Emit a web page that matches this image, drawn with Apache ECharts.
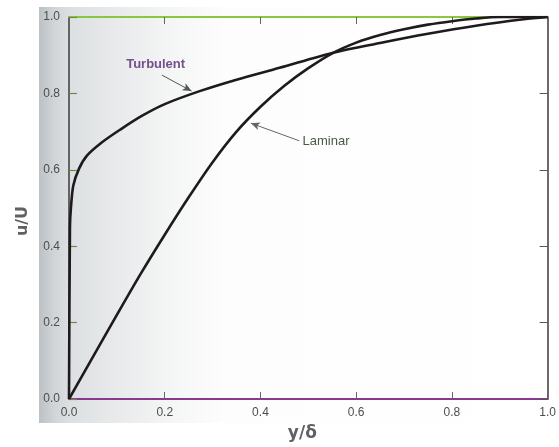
<!DOCTYPE html>
<html>
<head>
<meta charset="utf-8">
<script src="https://cdn.jsdelivr.net/npm/echarts@6/dist/echarts.min.js"></script>
<style>
html,body{margin:0;padding:0;background:#fff;}
#chart{width:559px;height:447px;}
</style>
</head>
<body>
<div id="chart"></div>
<script>
// Data (y/delta vs u/U)
const turbulentEta = [0, 0.002, 0.004, 0.009, 0.021, 0.0375, 0.069, 0.108, 0.152, 0.2, 0.273, 0.35, 0.44, 0.55, 0.65, 0.75, 0.85, 0.95, 1.0];
const turbulentU   = [0, 0.45, 0.5, 0.559, 0.603, 0.637, 0.672, 0.706, 0.741, 0.772, 0.806, 0.836, 0.867, 0.906, 0.932, 0.956, 0.977, 0.994, 1.0];

const laminarEta = [0, 0.05, 0.1, 0.15, 0.2, 0.25, 0.3, 0.35, 0.4, 0.45, 0.5, 0.55, 0.6, 0.65, 0.7, 0.75, 0.8, 0.85, 0.9, 1.0];
const laminarU   = [0, 0.11, 0.22, 0.328, 0.43, 0.528, 0.62, 0.70, 0.765, 0.82, 0.866, 0.905, 0.933, 0.953, 0.968, 0.980, 0.989, 0.996, 1.0, 1.0];

const xTicks = [0, 0.2, 0.4, 0.6, 0.8, 1.0];
const yTicks = [0, 0.2, 0.4, 0.6, 0.8, 1.0];

// annotation anchors (data coordinates)
const turbulentLabel = { text: 'Turbulent', at: [0.181, 0.875], arrowFrom: [0.194, 0.848], arrowTo: [0.256, 0.806] };
const laminarLabel   = { text: 'Laminar',   at: [0.488, 0.673], arrowFrom: [0.481, 0.676], arrowTo: [0.38, 0.722] };

const pairs = (xs, ys) => xs.map((x, i) => [x, ys[i]]);

const chart = echarts.init(document.getElementById('chart'), null, { renderer: 'canvas' });

const labelFont = { fontFamily: 'Liberation Sans, Arial, sans-serif', fontSize: 12, color: '#4b4f48' };

const option = {
  backgroundColor: '#ffffff',
  animation: false,
  graphic: [
    {
      type: 'rect', z: -10, silent: true,
      shape: { x: 39, y: 7, width: 520, height: 416 },
      style: {
        fill: new echarts.graphic.LinearGradient(0, 0, 1, 0, [
          { offset: 0, color: '#bcc1c5' },
          { offset: 0.03, color: '#d1d5d8' },
          { offset: 0.06, color: '#dde0e2' },
          { offset: 0.15, color: '#e8eaeb' },
          { offset: 0.25, color: '#f4f5f5' },
          { offset: 0.36, color: '#fdfdfd' },
          { offset: 1, color: '#ffffff' }
        ])
      }
    }
  ],
  grid: { left: 69, right: 10, top: 17, bottom: 45, containLabel: false },
  xAxis: [
    {
      type: 'value', position: 'bottom', min: 0, max: 1, interval: 0.2,
      name: 'y/δ', nameLocation: 'middle', nameGap: 26,
      nameTextStyle: { fontFamily: 'DejaVu Sans, sans-serif', fontSize: 17, color: '#5f6163', fontWeight: 'bold', padding: [0, 12, 0, 0] },
      axisLine: { show: true, lineStyle: { color: '#8a3a8e', width: 2 } },
      axisTick: { show: true, inside: true, length: 7, lineStyle: { color: '#666', width: 1 } },
      axisLabel: Object.assign({ margin: 8, formatter: v => v.toFixed(1) }, labelFont),
      splitLine: { show: false }
    },
    {
      type: 'value', position: 'top', min: 0, max: 1, interval: 0.2,
      axisLine: { show: true, onZero: false, lineStyle: { color: '#8cc63f', width: 2 } },
      axisTick: { show: true, inside: true, length: 7, lineStyle: { color: '#666', width: 1 } },
      axisLabel: { show: false },
      splitLine: { show: false }
    }
  ],
  yAxis: [
    {
      type: 'value', position: 'left', min: 0, max: 1, interval: 0.2,
      name: 'u/U', nameLocation: 'middle', nameGap: 38,
      nameTextStyle: { fontFamily: 'DejaVu Sans, sans-serif', fontSize: 16, color: '#5f6163', fontWeight: 'bold', padding: [0, 26, 0, 0] },
      axisLine: { show: true, onZero: false, lineStyle: { color: '#3a3a3a', width: 1.5 } },
      axisTick: { show: true, inside: true, length: 8, lineStyle: { color: '#6d8a4a', width: 1.2 } },
      axisLabel: Object.assign({ margin: 9, formatter: v => v.toFixed(1) }, labelFont),
      splitLine: { show: false }
    },
    {
      type: 'value', position: 'right', min: 0, max: 1, interval: 0.2,
      axisLine: { show: true, onZero: false, lineStyle: { color: '#3a3a3a', width: 1.5 } },
      axisTick: { show: true, inside: true, length: 8, lineStyle: { color: '#555', width: 1 } },
      axisLabel: { show: false },
      splitLine: { show: false }
    }
  ],
  series: [
    {
      name: 'Turbulent', type: 'line', xAxisIndex: 0, yAxisIndex: 0,
      data: pairs(turbulentEta, turbulentU),
      smooth: 0.3, showSymbol: false, symbol: 'none',
      lineStyle: { color: '#1e1a1e', width: 2.6 },
      markPoint: {
        symbol: 'circle', symbolSize: 0,
        label: { show: true, position: 'inside', formatter: turbulentLabel.text, fontFamily: 'Liberation Sans, Arial, sans-serif', fontSize: 13, fontWeight: 'bold', color: '#74508a', letterSpacing: 1.5 },
        data: [{ coord: turbulentLabel.at }]
      },
      markLine: {
        silent: true, symbol: ['none', 'arrow'], symbolSize: [6, 9],
        label: { show: false },
        lineStyle: { color: '#555', width: 1, type: 'solid' },
        data: [[{ coord: turbulentLabel.arrowFrom }, { coord: turbulentLabel.arrowTo }]]
      }
    },
    {
      name: 'Laminar', type: 'line', xAxisIndex: 0, yAxisIndex: 0,
      data: pairs(laminarEta, laminarU),
      smooth: 0.3, showSymbol: false, symbol: 'none',
      lineStyle: { color: '#1e1a1e', width: 2.6 },
      markPoint: {
        symbol: 'circle', symbolSize: 0,
        label: { show: true, position: 'right', distance: 0, formatter: laminarLabel.text, fontFamily: 'Liberation Sans, Arial, sans-serif', fontSize: 13, color: '#4d5a42', letterSpacing: 2.5 },
        data: [{ coord: laminarLabel.at }]
      },
      markLine: {
        silent: true, symbol: ['none', 'arrow'], symbolSize: [6, 9],
        label: { show: false },
        lineStyle: { color: '#666', width: 1, type: 'solid' },
        data: [[{ coord: laminarLabel.arrowFrom }, { coord: laminarLabel.arrowTo }]]
      }
    }
  ]
};

chart.setOption(option);
</script>
</body>
</html>
